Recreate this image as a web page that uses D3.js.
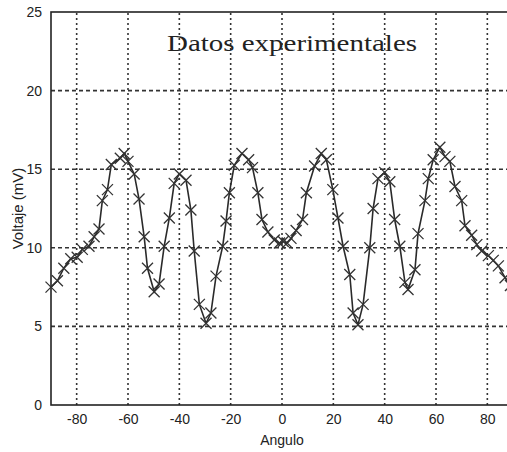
<!DOCTYPE html>
<html><head><meta charset="utf-8">
<script src="https://cdn.jsdelivr.net/npm/d3@7"></script>
<style>body{margin:0;background:#fff;}svg{display:block;}</style>
</head><body>
<svg id="c" width="507" height="452"></svg>
<script>
const angles = [-90,-87.5,-85,-82.3,-79.8,-77.8,-75.2,-73.2,-71.3,-70,-68,-66.5,-63,-61.5,-60,-57.6,-55.7,-53.7,-52.4,-49.8,-47.9,-45.9,-43.9,-42,-40,-37.4,-35.5,-34.2,-32.2,-29.6,-27.7,-25.7,-23.1,-21.8,-20.5,-18.6,-15.6,-13,-11.5,-9.4,-7.8,-5.5,-3,-1,0.5,2,3.5,5.5,8,9.5,12.7,15.3,17.3,19.8,21.8,23.8,26.4,27.7,29.6,31.6,34.2,35.5,37.4,40,42,43.9,45.9,47.9,49.1,51.8,53,55.7,57,58.9,61.5,63.5,65.4,67.4,70,71.3,73.9,75.9,77.8,80.4,82.3,84.3,86.9,89];
const voltage = [7.5,7.9,8.7,9.3,9.4,9.9,10.1,10.7,11.2,13,13.7,15.3,15.7,16,15.5,14.7,13.1,10.7,8.7,7.2,7.7,10.1,11.9,14.1,14.7,14.3,12.4,9.8,6.4,5.2,5.85,8.2,10.1,11.7,13.5,15.25,16,15.6,15.1,13.5,11.8,11,10.5,10.3,10.4,10.3,10.6,11.1,11.8,13.5,15.2,16,15.6,13.7,11.9,10.1,8.3,5.85,5.1,6.4,10,12.5,14.4,14.8,14.2,11.8,10.1,7.8,7.35,8.6,10.9,13,14.4,15.6,16.4,15.8,15.5,13.9,13,11.4,10.8,10.2,9.8,9.5,9.2,8.85,8.1,7.6];
const xTicks = [-80,-60,-40,-20,0,20,40,60,80];
const yTicks = [0,5,10,15,20,25];
const titleText = "Datos experimentales";
const xLabel = "Angulo";
const yLabel = "Voltaje (mV)";

const svg = d3.select("#c");
const x = d3.scaleLinear().domain([-90,90]).range([51,513]);
const y = d3.scaleLinear().domain([0,25]).range([405,12]);

const g = svg.append("g");
g.selectAll(".gx").data(xTicks).join("line")
  .attr("x1",d=>x(d)).attr("x2",d=>x(d)).attr("y1",y(0)).attr("y2",y(25))
  .attr("stroke","#333").attr("stroke-width",1.6).attr("stroke-dasharray","2,3");
g.selectAll(".gy").data(yTicks.slice(1,-1)).join("line")
  .attr("x1",x(-90)).attr("x2",x(90)).attr("y1",d=>y(d)).attr("y2",d=>y(d))
  .attr("stroke","#333").attr("stroke-width",1.6).attr("stroke-dasharray","4,3");

g.append("rect").attr("x",x(-90)).attr("y",y(25)).attr("width",x(90)-x(-90)).attr("height",y(0)-y(25))
  .attr("fill","none").attr("stroke","#222").attr("stroke-width",1.6);

const fontSans = "Liberation Sans, Arial, sans-serif";
const ax = d3.axisBottom(x).tickValues(xTicks).tickFormat(d=>String(d)).tickSize(0).tickPadding(8);
const axG = svg.append("g").attr("transform",`translate(0,${y(0)})`).call(ax);
axG.select(".domain").remove();
axG.selectAll("text").attr("font-family",fontSans).attr("font-size",14).attr("fill","#222").attr("dy","0.75em");
const ay = d3.axisLeft(y).tickValues(yTicks).tickFormat(d=>String(d)).tickSize(0).tickPadding(9);
const ayG = svg.append("g").attr("transform",`translate(${x(-90)},0)`).call(ay);
ayG.select(".domain").remove();
ayG.selectAll("text").attr("font-family",fontSans).attr("font-size",14).attr("fill","#222");

const pts = angles.map((a,i)=>[a,voltage[i]]);
svg.append("path").datum(pts)
  .attr("d",d3.line().x(d=>x(d[0])).y(d=>y(d[1])))
  .attr("fill","none").attr("stroke","#2a2a2a").attr("stroke-width",1.6);
const s = 5.5;
svg.append("g").selectAll("path").data(pts).join("path")
  .attr("d",d=>{const cx=x(d[0]),cy=y(d[1]);return `M${cx-s},${cy-s}L${cx+s},${cy+s}M${cx-s},${cy+s}L${cx+s},${cy-s}`;})
  .attr("stroke","#333").attr("stroke-width",1.3).attr("fill","none");

svg.append("text").attr("x",167).attr("y",51).text(titleText)
  .attr("font-family","Liberation Serif, Times New Roman, serif").attr("font-size",24)
  .attr("textLength",250).attr("lengthAdjust","spacingAndGlyphs").attr("fill","#222");
svg.append("text").attr("x",x(0)).attr("y",445).attr("text-anchor","middle").text(xLabel)
  .attr("font-family",fontSans).attr("font-size",14).attr("fill","#222");
svg.append("text").attr("transform",`translate(23,${y(12.5)}) rotate(-90)`).attr("text-anchor","middle").text(yLabel)
  .attr("font-family",fontSans).attr("font-size",15).attr("fill","#222");
</script>
</body></html>
